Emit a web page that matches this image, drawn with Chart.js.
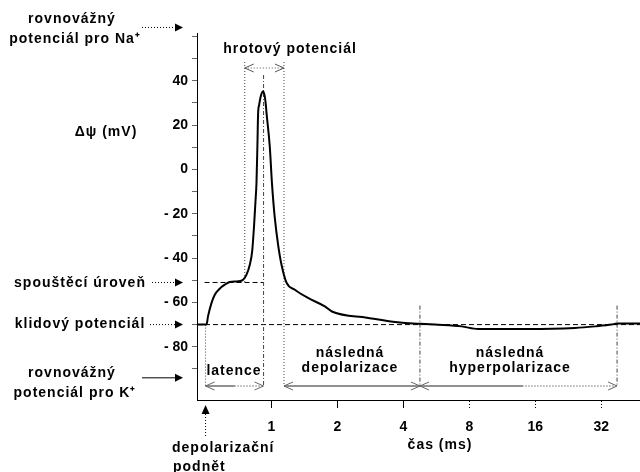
<!DOCTYPE html>
<html>
<head>
<meta charset="utf-8">
<script src="https://cdn.jsdelivr.net/npm/chart.js@4/dist/chart.umd.min.js"></script>
<style>
  body { margin: 0; background: #fff; }
  canvas { display: block; }
</style>
</head>
<body>
<canvas id="apChart" width="640" height="472"></canvas>
<script>
// time (ms, log axis) and membrane potential (mV)
const timeMs = [0.45, 0.505, 0.513, 0.532, 0.551, 0.58, 0.612, 0.645, 0.704, 0.742, 0.769, 0.796,
  0.816, 0.833, 0.845, 0.854, 0.862, 0.869, 0.878, 0.889, 0.901, 0.915, 0.932, 0.942, 0.949,
  0.982, 1.006, 1.035, 1.072, 1.111, 1.171, 1.278, 1.469, 1.752, 1.897, 2.725, 3.855, 4.76,
  5.57, 7.38, 8.76, 14.8, 24.3, 30.0, 35.7, 37.7, 50];
const potentialMv = [-70, -70, -66.3, -60.3, -56.5, -53.8, -52.0, -50.8, -50.5, -49.8, -47.5, -43.0,
  -37.0, -25.0, -14.5, -6.0, 10.0, 25.5, 29.0, 32.1, 34.2, 35.2, 32.8, 29.1, 25.5,
  10.3, -7.0, -21.8, -34.0, -43.0, -51.1, -54.3, -58.0, -61.8, -64.2, -66.9, -69.1, -69.6,
  -70.0, -70.8, -72.0, -72.0, -71.5, -70.8, -70.0, -69.5, -69.5];

const xTicks = [1, 2, 4, 8, 16, 32];
const yTicks = [-90, -80, -70, -60, -50, -40, -30, -20, -10, 0, 10, 20, 30, 40, 50, 60];

// reference levels (mV) and phase boundaries (ms)
const naLevel = 64;
const triggerLevel = -51;
const restLevel = -70;
const kLevel = -94;
const stimulusT = 0.5;
const spikeStartT = 0.755;
const peakT = 0.92;
const spikeEndT = 1.14;
const hyperStartT = 4.76;
const hyperEndT = 37.8;

const FONT = 'bold 14px "Liberation Sans", Arial, sans-serif';

function arrowHeadFilled(ctx, x, y, dir) {
    // dir: 1 = pointing right, 0 = pointing up
    ctx.beginPath();
    if (dir === 1) {
        ctx.moveTo(x, y);
        ctx.lineTo(x - 8, y - 4);
        ctx.lineTo(x - 8, y + 4);
    } else {
        ctx.moveTo(x, y);
        ctx.lineTo(x - 4, y + 9);
        ctx.lineTo(x + 4, y + 9);
    }
    ctx.closePath();
    ctx.fill();
}

function openHead(ctx, x, y, dir) {
    ctx.beginPath();
    ctx.moveTo(x - dir * 9, y - 4);
    ctx.lineTo(x, y);
    ctx.lineTo(x - dir * 9, y + 4);
    ctx.stroke();
}

function hLine(ctx, x1, x2, y, dash) {
    ctx.setLineDash(dash);
    ctx.beginPath();
    ctx.moveTo(x1, y);
    ctx.lineTo(x2, y);
    ctx.stroke();
}

function vLine(ctx, x, y1, y2, dash) {
    ctx.setLineDash(dash);
    ctx.beginPath();
    ctx.moveTo(x, y1);
    ctx.lineTo(x, y2);
    ctx.stroke();
}

const DOT = [1, 2];
const DASH = [5, 3];
const DASHDOT = [4, 2, 1, 2];

const annotations = {
    id: 'annotations',
    beforeDatasetsDraw(chart) {
        const ctx = chart.ctx;
        const xs = chart.scales.x;
        const ys = chart.scales.y;
        const area = chart.chartArea;
        const yRest = ys.getPixelForValue(restLevel);
        const yTrig = ys.getPixelForValue(triggerLevel);
        const yArrow = area.bottom - 14;
        const yTop = 62;

        ctx.save();
        ctx.strokeStyle = '#000';
        ctx.lineWidth = 1;

        // reference lines
        hLine(ctx, area.left, area.right, yRest, DASH);
        hLine(ctx, xs.getPixelForValue(stimulusT) - 1, xs.getPixelForValue(peakT), yTrig, DASH);

        // phase boundaries
        ctx.strokeStyle = '#444';
        vLine(ctx, xs.getPixelForValue(stimulusT), yRest, yArrow, DOT);
        vLine(ctx, xs.getPixelForValue(spikeStartT), yTop, yTrig, DOT);
        vLine(ctx, xs.getPixelForValue(peakT), yTop + 13, yArrow, DASHDOT);
        vLine(ctx, xs.getPixelForValue(spikeEndT), yTop, yArrow, DOT);
        vLine(ctx, xs.getPixelForValue(hyperStartT), yRest - 19, yArrow, DASHDOT);
        vLine(ctx, xs.getPixelForValue(hyperEndT), yRest - 19, yArrow, DASHDOT);
        ctx.restore();
    },
    afterDraw(chart) {
        const ctx = chart.ctx;
        const xs = chart.scales.x;
        const ys = chart.scales.y;
        const area = chart.chartArea;
        const yArrow = area.bottom - 14;

        ctx.save();
        ctx.strokeStyle = '#000';
        ctx.fillStyle = '#000';
        ctx.lineWidth = 1;

        // left side arrows pointing at the axis
        const tipX = area.left - 14;
        const yNa = ys.getPixelForValue(naLevel);
        hLine(ctx, 142, tipX - 6, yNa, DOT);
        arrowHeadFilled(ctx, tipX, yNa, 1);
        const yTrig = ys.getPixelForValue(triggerLevel);
        hLine(ctx, 152, tipX - 6, yTrig, DOT);
        arrowHeadFilled(ctx, tipX, yTrig, 1);
        const yRest = ys.getPixelForValue(restLevel);
        hLine(ctx, 150, tipX - 6, yRest, DOT);
        arrowHeadFilled(ctx, tipX, yRest, 1);
        const yK = ys.getPixelForValue(kLevel);
        hLine(ctx, 142, tipX - 6, yK, []);
        arrowHeadFilled(ctx, tipX, yK, 1);

        // stimulus arrow below the axis
        const xStim = xs.getPixelForValue(stimulusT);
        arrowHeadFilled(ctx, xStim, area.bottom + 5, 0);
        vLine(ctx, xStim, area.bottom + 14, area.bottom + 38, DOT);

        // spike width arrow
        const xS1 = xs.getPixelForValue(spikeStartT);
        const xS2 = xs.getPixelForValue(spikeEndT);
        ctx.strokeStyle = '#555';
        hLine(ctx, xS1, xS2, 68, DOT);
        ctx.setLineDash([]);
        openHead(ctx, xS1, 68, -1);
        openHead(ctx, xS2, 68, 1);

        // phase arrows along the bottom
        const xPeak = xs.getPixelForValue(peakT);
        const xH1 = xs.getPixelForValue(hyperStartT);
        const xH2 = xs.getPixelForValue(hyperEndT);
        ctx.strokeStyle = '#222';
        const midLat = (xStim + xPeak) / 2;
        hLine(ctx, xStim, midLat, yArrow, []);
        hLine(ctx, midLat, xPeak, yArrow, DOT);
        hLine(ctx, xS2, xH1, yArrow, []);
        const midHyp = xH1 + (xH2 - xH1) * 0.52;
        hLine(ctx, xH1, midHyp, yArrow, []);
        hLine(ctx, midHyp, xH2, yArrow, DOT);
        ctx.setLineDash([]);
        ctx.strokeStyle = '#666';
        openHead(ctx, xStim, yArrow, -1);
        openHead(ctx, xPeak, yArrow, 1);
        openHead(ctx, xS2, yArrow, -1);
        openHead(ctx, xH1, yArrow, 1);
        openHead(ctx, xH1, yArrow, -1);
        openHead(ctx, xH2, yArrow, 1);

        // texts
        ctx.font = FONT;
        ctx.fillStyle = '#000';
        ctx.letterSpacing = '1px';
        ctx.textBaseline = 'alphabetic';
        ctx.textAlign = 'center';
        ctx.fillText('rovnovážný', 72, 23);
        ctx.fillText('potenciál pro Na⁺', 75, 43);
        ctx.fillText('Δψ (mV)', 106, 136);
        ctx.fillText('hrotový potenciál', 290, 53);
        ctx.fillText('spouštěcí úroveň', 80, 287);
        ctx.fillText('klidový potenciál', 80, 328);
        ctx.fillText('rovnovážný', 72, 377);
        ctx.fillText('potenciál pro K⁺', 75, 397);
        ctx.fillText('latence', 234, 375);
        ctx.fillText('následná', 350, 357);
        ctx.fillText('depolarizace', 350, 372);
        ctx.fillText('následná', 510, 357);
        ctx.fillText('hyperpolarizace', 510, 372);
        ctx.fillText('čas (ms)', 440, 449);
        ctx.textAlign = 'left';
        ctx.fillText('depolarizační', 172, 452);
        ctx.fillText('podnět', 173, 471);
        ctx.restore();
    }
};

const points = timeMs.map((t, i) => ({ x: t, y: potentialMv[i] }));

new Chart(document.getElementById('apChart'), {
    type: 'line',
    data: {
        datasets: [{
            label: 'Δψ',
            data: points,
            borderColor: '#000',
            borderWidth: 2,
            pointRadius: 0,
            fill: false,
            cubicInterpolationMode: 'monotone'
        }]
    },
    options: {
        responsive: false,
        animation: false,
        devicePixelRatio: 1,
        layout: { padding: { top: 33, left: 0, right: 0, bottom: 0 } },
        plugins: {
            legend: { display: false },
            tooltip: { enabled: false }
        },
        scales: {
            x: {
                type: 'logarithmic',
                min: 0.457,
                max: 48.1,
                afterBuildTicks: (scale) => { scale.ticks = xTicks.map(v => ({ value: v })); },
                afterFit: (scale) => { scale.height = 72; },
                ticks: {
                    color: '#000',
                    font: { family: '"Liberation Sans", Arial, sans-serif', size: 14, weight: 'bold' },
                    padding: 11,
                    maxRotation: 0,
                    autoSkip: false,
                    callback: (value) => String(value)
                },
                grid: {
                    drawOnChartArea: false,
                    drawTicks: true,
                    tickLength: 8,
                    tickColor: '#000',
                    tickWidth: 1,
                    tickBorderDash: (ctx) => (ctx.tick && ctx.tick.value >= 8 ? [1, 2] : [])
                },
                border: { display: true, color: '#000', width: 1 }
            },
            y: {
                min: -104,
                max: 61.5,
                afterBuildTicks: (scale) => { scale.ticks = yTicks.map(v => ({ value: v })); },
                afterFit: (scale) => { scale.width = 197; },
                ticks: {
                    color: '#000',
                    font: { family: '"Liberation Sans", Arial, sans-serif', size: 14, weight: 'bold' },
                    padding: 4,
                    autoSkip: false,
                    callback: (value) => {
                        if (value % 20 !== 0 || value > 40 || value < -80) return '';
                        return value < 0 ? '- ' + Math.abs(value) : String(value);
                    }
                },
                grid: {
                    drawOnChartArea: false,
                    drawTicks: true,
                    tickLength: 5,
                    tickColor: '#666',
                    tickWidth: 1
                },
                border: { display: true, color: '#000', width: 1 }
            }
        }
    },
    plugins: [annotations]
});
</script>
</body>
</html>
